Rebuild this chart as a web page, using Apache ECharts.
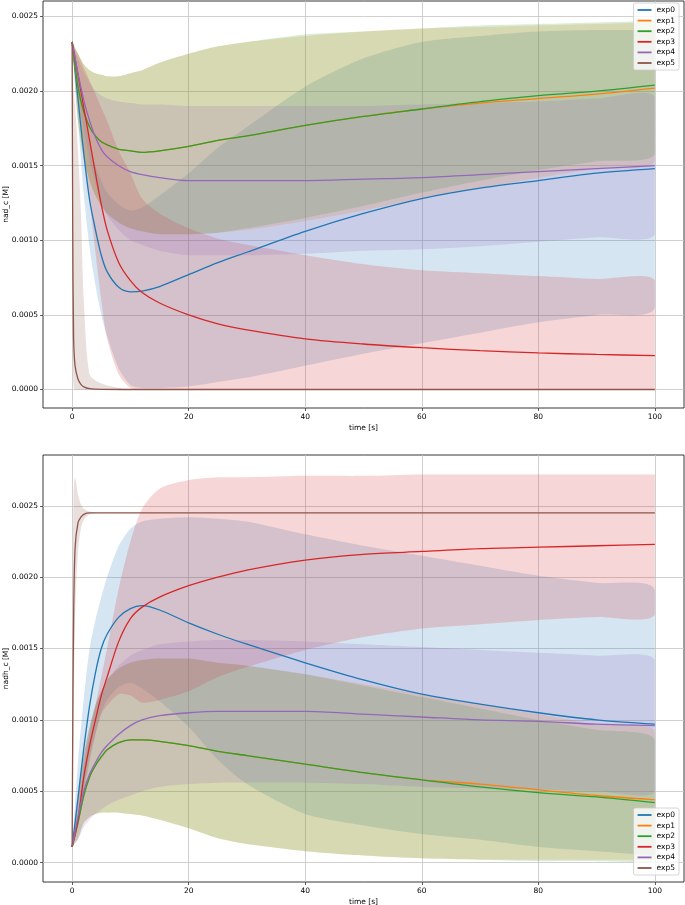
<!DOCTYPE html>
<html><head><meta charset="utf-8">
<script src="https://cdn.jsdelivr.net/npm/echarts@6/dist/echarts.min.js"></script>
<style>html,body{margin:0;padding:0;background:#fff}#c{width:685px;height:905px}</style>
</head><body><div id="c"></div>
<script>
// ---- data ----
const T  = [0,1,2,3,4,5,6,8,10,12,15,20,25,30,40,50,60,70,80,90,100];
const TF = [0,0.1,0.25,0.5,1,1.5,2,3,5,10,20,40,60,80,100];
const xTicks = [0,20,40,60,80,100];
const yTicks = [0,0.0005,0.001,0.0015,0.002,0.0025];
const names = ['exp0','exp1','exp2','exp3','exp4','exp5'];
const colors = ['#1f77b4','#ff7f0e','#2ca02c','#d62728','#9467bd','#8c564b'];

// top: nad_c
const nad_exp0    = [0.00233,0.00195,0.00158,0.00127,0.00107,0.0009,0.00079,0.000685,0.000655,0.00066,0.00069,0.00077,0.00085,0.00092,0.00106,0.00118,0.00128,0.00135,0.0014,0.00145,0.00148];
const nad_exp0_lo = [0.00233,0.0018,0.00131,0.00095,0.0007,0.0005,0.00036,0.00014,0.00003,0.00001,0.00001,0.00002,0.00005,0.00008,0.00016,0.00024,0.00031,0.00038,0.00045,0.0005,0.00055];
const nad_exp0_hi = [0.00233,0.0021,0.00185,0.00165,0.0015,0.0014,0.00132,0.00124,0.0012,0.00122,0.0013,0.00145,0.00162,0.00176,0.00203,0.00222,0.00233,0.00237,0.0024,0.00241,0.00241];
const nad_exp1    = [0.00233,0.00203,0.00186,0.00176,0.0017,0.00166,0.00164,0.00161,0.0016,0.00159,0.0016,0.00163,0.00167,0.0017,0.00177,0.00183,0.00188,0.00192,0.00195,0.00198,0.00202];
const nad_exp1_lo = [0.00233,0.0018,0.00155,0.0014,0.0013,0.00123,0.00118,0.00112,0.00108,0.00106,0.00104,0.00104,0.00105,0.00107,0.00113,0.0012,0.00128,0.00135,0.00142,0.00148,0.00153];
const nad_exp1_hi = [0.00233,0.00225,0.00218,0.00214,0.00212,0.00211,0.0021,0.0021,0.00212,0.00214,0.00219,0.00225,0.0023,0.00233,0.00237,0.0024,0.00242,0.00243,0.00244,0.00245,0.00246];
const nad_exp2    = [0.00233,0.00203,0.00186,0.00176,0.0017,0.00166,0.00164,0.00161,0.0016,0.00159,0.0016,0.00163,0.00167,0.0017,0.00177,0.00183,0.00188,0.00193,0.00197,0.002,0.00204];
const nad_exp2_lo = [0.00233,0.0018,0.00155,0.0014,0.0013,0.00123,0.00118,0.00112,0.00108,0.00106,0.00104,0.00104,0.00105,0.00108,0.00115,0.00123,0.00132,0.0014,0.00147,0.00153,0.00158];
const nad_exp2_hi = [0.00233,0.00225,0.00218,0.00214,0.00212,0.00211,0.0021,0.0021,0.00212,0.00214,0.00219,0.00225,0.0023,0.00233,0.00238,0.0024,0.00242,0.00244,0.00245,0.00246,0.00247];
const nad_exp3    = [0.00233,0.00211,0.00189,0.00167,0.00145,0.00124,0.00107,0.00085,0.00073,0.00065,0.00058,0.0005,0.00044,0.0004,0.00034,0.000305,0.00028,0.00026,0.000245,0.000235,0.000227];
const nad_exp3_lo = [0.00233,0.00197,0.00162,0.00127,0.00092,0.0006,0.00034,0.0001,0.00001,0,0,0,0,0,0,0,0,0,0,0,0];
const nad_exp3_hi = [0.00233,0.00225,0.00216,0.00207,0.00198,0.00189,0.0018,0.0016,0.00145,0.00128,0.00118,0.00108,0.00101,0.00097,0.0009,0.00084,0.0008,0.00078,0.00076,0.00074,0.00073];
const nad_exp4    = [0.00233,0.00212,0.00194,0.0018,0.00169,0.00161,0.00156,0.0015,0.00146,0.00144,0.00142,0.0014,0.0014,0.0014,0.0014,0.00141,0.00142,0.00144,0.00146,0.00148,0.0015];
const nad_exp4_lo = [0.00233,0.00202,0.00175,0.00154,0.00138,0.00125,0.00117,0.00107,0.001,0.00097,0.00093,0.0009,0.0009,0.0009,0.00091,0.00093,0.00094,0.00096,0.00099,0.00102,0.00104];
const nad_exp4_hi = [0.00233,0.00222,0.00213,0.00206,0.002,0.00197,0.00195,0.00193,0.00192,0.00191,0.00191,0.0019,0.0019,0.0019,0.0019,0.0019,0.00191,0.00192,0.00193,0.00195,0.00196];
const nad_exp5    = [0.00233,0.0011,0.00035,0.00016,0.00007,0.000035,0.000018,0.000006,0.000001,0,0,0,0,0,0];
const nad_exp5_lo = [0.00233,0.0003,0.00002,0,0,0,0,0,0,0,0,0,0,0,0];
const nad_exp5_hi = [0.00233,0.00215,0.002,0.0019,0.0016,0.0012,0.0006,0.0001,0.00004,0,0,0,0,0,0];

// bottom: nadh_c
const nadh_exp0    = [0.00011,0.00045,0.0008,0.0011,0.00133,0.0015,0.0016,0.00172,0.00178,0.0018,0.00177,0.00168,0.0016,0.00153,0.0014,0.00128,0.00118,0.00111,0.00105,0.001,0.00097];
const nadh_exp0_lo = [0.00011,0.0003,0.0005,0.0007,0.0009,0.00105,0.00114,0.00123,0.00126,0.00122,0.00113,0.00095,0.00072,0.00055,0.00034,0.00026,0.0002,0.00016,0.00011,0.00008,0.00005];
const nadh_exp0_hi = [0.00011,0.0007,0.00115,0.0015,0.0017,0.00186,0.002,0.00222,0.00234,0.00239,0.00241,0.00242,0.00241,0.00239,0.0023,0.00222,0.00215,0.00208,0.00201,0.00196,0.00191];
const nadh_exp1    = [0.00011,0.00028,0.00047,0.0006,0.00068,0.00074,0.00079,0.00084,0.00086,0.00086,0.00085,0.00082,0.00078,0.00075,0.00069,0.00063,0.00058,0.00055,0.00051,0.00047,0.00044];
const nadh_exp1_lo = [0.00011,0.00017,0.00028,0.00032,0.00034,0.00035,0.00035,0.00035,0.00034,0.00033,0.0003,0.00024,0.00017,0.00013,0.00008,0.00005,0.00003,0.00002,0.00002,0.00002,0.00002];
const nadh_exp1_hi = [0.00011,0.00045,0.00075,0.00095,0.0011,0.0012,0.00128,0.00136,0.0014,0.00142,0.00143,0.00143,0.0014,0.00138,0.00132,0.00125,0.00118,0.00111,0.00104,0.00097,0.00092];
const nadh_exp2    = [0.00011,0.00028,0.00047,0.0006,0.00068,0.00074,0.00079,0.00084,0.00086,0.00086,0.00085,0.00082,0.00078,0.00075,0.00069,0.00063,0.00058,0.00053,0.00049,0.00046,0.00042];
const nadh_exp2_lo = [0.00011,0.00017,0.00028,0.00032,0.00034,0.00035,0.00035,0.00035,0.00034,0.00033,0.0003,0.00024,0.00017,0.00013,0.00008,0.00005,0.00003,0.00002,0.00001,0.00001,0];
const nadh_exp2_hi = [0.00011,0.00045,0.00075,0.00095,0.0011,0.0012,0.00128,0.00136,0.0014,0.00142,0.00143,0.00143,0.0014,0.00138,0.00132,0.00124,0.00116,0.00108,0.001,0.00093,0.00086];
const nadh_exp3    = [0.00011,0.0003,0.0006,0.00082,0.001,0.00117,0.0013,0.00155,0.00171,0.00179,0.00186,0.00194,0.002,0.00205,0.00212,0.00216,0.00218,0.0022,0.00221,0.00222,0.00223];
const nadh_exp3_lo = [0.00011,0.00025,0.00052,0.00074,0.0009,0.00104,0.0011,0.00118,0.00117,0.00112,0.00114,0.0012,0.0013,0.00137,0.00149,0.00158,0.00164,0.00167,0.0017,0.00172,0.00174];
const nadh_exp3_hi = [0.00011,0.00035,0.00068,0.0009,0.0011,0.0013,0.0015,0.00192,0.00225,0.00248,0.00262,0.00268,0.0027,0.0027,0.00271,0.00271,0.00272,0.00272,0.00272,0.00272,0.00272];
const nadh_exp4    = [0.00011,0.00032,0.0005,0.00062,0.0007,0.00077,0.00082,0.0009,0.00096,0.001,0.00103,0.00105,0.00106,0.00106,0.00106,0.00104,0.00102,0.001,0.00099,0.00097,0.00096];
const nadh_exp4_lo = [0.00011,0.00016,0.00025,0.0003,0.00034,0.00037,0.0004,0.00044,0.00047,0.0005,0.00053,0.00055,0.00056,0.00056,0.00056,0.00055,0.00053,0.00052,0.00051,0.0005,0.0005];
const nadh_exp4_hi = [0.00011,0.0005,0.00075,0.00095,0.0011,0.0012,0.00128,0.00138,0.00145,0.00149,0.00153,0.00155,0.00156,0.00156,0.00155,0.00153,0.00151,0.00149,0.00147,0.00145,0.00142];
const nadh_exp5    = [0.00011,0.0009,0.0017,0.0022,0.00238,0.00242,0.00244,0.00245,0.00245,0.00245,0.00245,0.00245,0.00245,0.00245,0.00245];
const nadh_exp5_lo = [0.00011,0.0002,0.0009,0.0017,0.00218,0.00234,0.0024,0.00244,0.00245,0.00245,0.00245,0.00245,0.00245,0.00245,0.00245];
const nadh_exp5_hi = [0.00011,0.0017,0.0026,0.0027,0.00258,0.00251,0.00248,0.00246,0.00245,0.00245,0.00245,0.00245,0.00245,0.00245,0.00245];

// ---- assembly ----
const topSets = [
  [T, nad_exp0, nad_exp0_lo, nad_exp0_hi],
  [T, nad_exp1, nad_exp1_lo, nad_exp1_hi],
  [T, nad_exp2, nad_exp2_lo, nad_exp2_hi],
  [T, nad_exp3, nad_exp3_lo, nad_exp3_hi],
  [T, nad_exp4, nad_exp4_lo, nad_exp4_hi],
  [TF, nad_exp5, nad_exp5_lo, nad_exp5_hi]
];
const botSets = [
  [T, nadh_exp0, nadh_exp0_lo, nadh_exp0_hi],
  [T, nadh_exp1, nadh_exp1_lo, nadh_exp1_hi],
  [T, nadh_exp2, nadh_exp2_lo, nadh_exp2_hi],
  [T, nadh_exp3, nadh_exp3_lo, nadh_exp3_hi],
  [T, nadh_exp4, nadh_exp4_lo, nadh_exp4_hi],
  [TF, nadh_exp5, nadh_exp5_lo, nadh_exp5_hi]
];

const FONT = 'DejaVu Sans';
const FS = 7.5;

function bandSeries(g, xs, lo, hi, color, idx) {
  return {
    type: 'custom', name: 'band' + g + '_' + idx, xAxisIndex: g, yAxisIndex: g,
    silent: true, z: 1, clip: true,
    data: xs.map((t, i) => [t, lo[i], hi[i]]),
    encode: { x: 0, y: [1, 2] },
    renderItem: function (params, api) {
      if (params.dataIndex !== 0) return null;
      const pts = [];
      for (let i = 0; i < xs.length; i++) pts.push(api.coord([xs[i], hi[i]]));
      for (let i = xs.length - 1; i >= 0; i--) pts.push(api.coord([xs[i], lo[i]]));
      let mn = [Infinity, Infinity], mx = [-Infinity, -Infinity];
      pts.forEach(p => { mn[0] = Math.min(mn[0], p[0]); mn[1] = Math.min(mn[1], p[1]); mx[0] = Math.max(mx[0], p[0]); mx[1] = Math.max(mx[1], p[1]); });
      return { type: 'polygon', shape: { points: pts, smooth: 0.25, smoothConstraint: [mn, mx] },
               style: { fill: color, opacity: 0.19 } };
    }
  };
}
function lineSeries(g, xs, ys, color, name) {
  return {
    type: 'line', name: name, xAxisIndex: g, yAxisIndex: g, z: 3,
    data: xs.map((t, i) => [t, ys[i]]),
    showSymbol: false, symbol: 'none', smooth: 0.3,
    lineStyle: { color: color, width: 1.3 }, itemStyle: { color: color },
    emphasis: { disabled: true }, animation: false
  };
}

const series = [];
[topSets, botSets].forEach((sets, g) => {
  sets.forEach((s, i) => series.push(bandSeries(g, s[0], s[2], s[3], colors[i], i)));
  sets.forEach((s, i) => series.push(lineSeries(g, s[0], s[1], colors[i], names[i])));
});

function xAxis(g) {
  return {
    type: 'value', gridIndex: g, min: -5, max: 105,
    name: 'time [s]', nameLocation: 'middle', nameGap: 16,
    nameTextStyle: { fontFamily: FONT, fontSize: FS, color: '#000' },
    axisLine: { show: false, onZero: false },
    axisTick: { show: true, length: 3, inside: false, customValues: xTicks, lineStyle: { color: '#333', width: 0.8 } },
    axisLabel: { customValues: xTicks, fontFamily: FONT, fontSize: FS, color: '#000', margin: 5, formatter: v => String(Math.round(v)) },
    splitLine: { show: true, lineStyle: { color: '#c4c4c4', width: 0.8 } }
  };
}
function yAxis(g, min, max, name) {
  return {
    type: 'value', gridIndex: g, min: min, max: max,
    name: name, nameLocation: 'middle', nameGap: 33, nameRotate: 90, nameMoveOverlap: false,
    nameTextStyle: { fontFamily: FONT, fontSize: FS, color: '#000' },
    axisLine: { show: false, onZero: false },
    axisTick: { show: true, length: 3, customValues: yTicks, lineStyle: { color: '#333', width: 0.8 } },
    axisLabel: { customValues: yTicks, fontFamily: FONT, fontSize: FS, color: '#000', margin: 5, formatter: v => v.toFixed(4) },
    splitLine: { show: true, lineStyle: { color: '#c4c4c4', width: 0.8 } }
  };
}
function legend(pos) {
  return Object.assign({
    data: names, orient: 'vertical', icon: 'rect', itemWidth: 14, itemHeight: 1.8, itemGap: 2.6,
    textStyle: { fontFamily: FONT, fontSize: FS, color: '#000' },
    backgroundColor: 'rgba(255,255,255,0.8)', borderColor: '#cccccc', borderWidth: 0.8, borderRadius: 2,
    padding: [3, 4, 3, 4], selectedMode: false
  }, pos);
}

const option = {
  animation: false,
  backgroundColor: '#fff',
  grid: [
    { left: 43, right: 1, top: 1, height: 407, show: true, borderColor: '#222', borderWidth: 0.9, backgroundColor: 'transparent', outerBoundsMode: 'none', containLabel: false },
    { left: 43, right: 1, top: 455, height: 427, show: true, borderColor: '#222', borderWidth: 0.9, backgroundColor: 'transparent', outerBoundsMode: 'none', containLabel: false }
  ],
  xAxis: [xAxis(0), xAxis(1)],
  yAxis: [yAxis(0, -0.000124, 0.002604, 'nad_c [M]'), yAxis(1, -0.000136, 0.002856, 'nadh_c [M]')],
  legend: [ legend({ right: 6, top: 3 }), legend({ right: 6, top: 808 }) ],
  series: series
};
const chart = echarts.init(document.getElementById('c'), null, { renderer: 'canvas' });
chart.setOption(option);
</script></body></html>
